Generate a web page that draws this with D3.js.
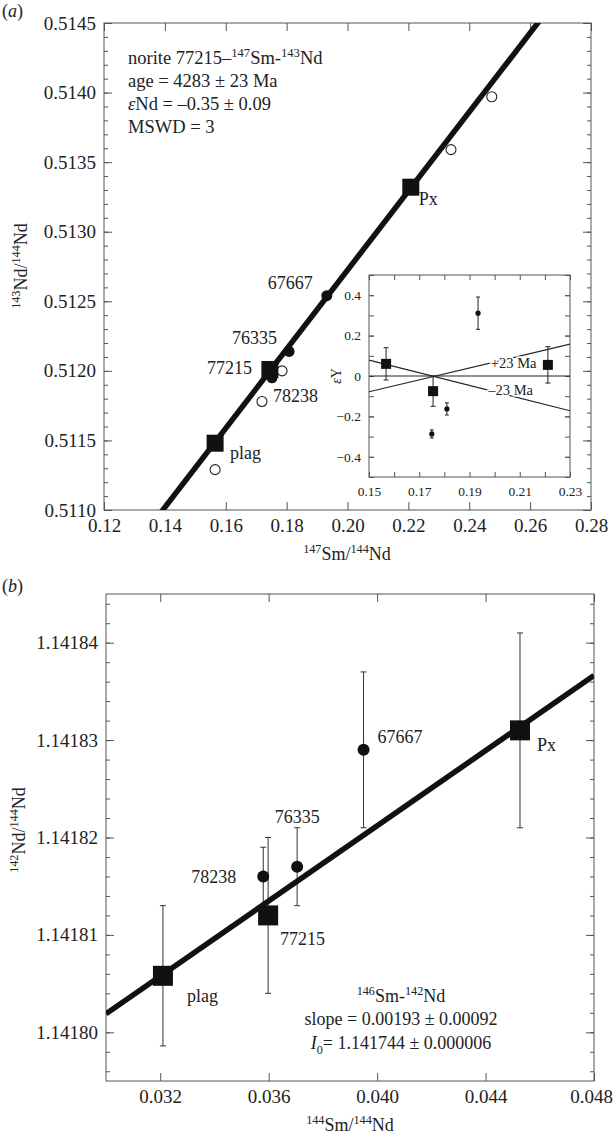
<!DOCTYPE html>
<html>
<head>
<meta charset="utf-8">
<script src="https://cdn.jsdelivr.net/npm/d3@7"></script>
<style>
body { margin:0; background:#fff; }
svg { display:block; }
text { font-family:"Liberation Serif","Times New Roman",serif; fill:#222; }
.frame { fill:none; stroke:#555; stroke-width:1; }
.axis path { display:none; }
.axis line { stroke:#555; stroke-width:1; }
</style>
</head>
<body>
<svg id="chart"></svg>
<script>
var serif = "Liberation Serif, Times New Roman, serif";

// ---- panel (a): 147Sm-143Nd isochron ----
var mineralNames = ["plag", "77215", "Px"];
var mineralSm147 = [0.1565, 0.1745, 0.2208];
var mineralNd143 = [0.51148, 0.51201, 0.51332];

var rockNames = ["67667", "76335", ""];
var rockSm147 = [0.1932, 0.1808, 0.1752];
var rockNd143 = [0.51254, 0.51214, 0.51195];

var openNames = ["", "78238", "", "", ""];
var openSm147 = [0.1565, 0.1719, 0.1785, 0.2340, 0.2474];
var openNd143 = [0.51129, 0.51178, 0.51200, 0.51359, 0.51397];

var isoSlope = 0.02841;
var isoIntercept = 0.507042;

var xTicksA = [0.12, 0.14, 0.16, 0.18, 0.20, 0.22, 0.24, 0.26, 0.28];
var yTicksA = [0.5110, 0.5115, 0.5120, 0.5125, 0.5130, 0.5135, 0.5140, 0.5145];

// inset: epsilon deviations
var insetSquareX = [0.1568, 0.1755, 0.2212];
var insetSquareY = [0.06, -0.075, 0.055];
var insetSquareErr = [0.08, 0.075, 0.09];
var insetDotX = [0.1750, 0.1810, 0.1934];
var insetDotY = [-0.287, -0.163, 0.311];
var insetDotErr = [0.02, 0.03, 0.08];
var refLineX = [0.15, 0.23];
var plus23Y = [-0.078, 0.158];
var minus23Y = [0.079, -0.172];
var insetXTicks = [0.15, 0.17, 0.19, 0.21, 0.23];
var insetYTicks = [-0.4, -0.2, 0, 0.2, 0.4];

// ---- panel (b): 146Sm-142Nd ----
var bSquareNames = ["plag", "77215", "Px"];
var bSquareX = [0.0321, 0.03598, 0.04527];
var bSquareY = [1.1418058, 1.141812, 1.141831];
var bSquareErr = [0.0000072, 0.000008, 0.00001];

var bDotNames = ["78238", "76335", "67667"];
var bDotX = [0.0358, 0.03705, 0.0395];
var bDotY = [1.141816, 1.141817, 1.141829];
var bDotErr = [0.000003, 0.000004, 0.000008];

var bSlope = 0.00193;
var bIntercept = 1.141744;

var xTicksB = [0.032, 0.036, 0.040, 0.044, 0.048];
var yTicksB = [1.14180, 1.14181, 1.14182, 1.14183, 1.14184];

var svg = d3.select("#chart").attr("width", 614).attr("height", 1136);

// write text made of parts: [string, "sup"|"sub"|"i"]
var richText = function(sel, parts, size)
{
    var shift = 0;
    parts.forEach(function(p)
    {
        var t = sel.append("tspan").text(p[0]);
        var want = 0;
        if (p[1] == "sup") { want = -size*0.38; t.attr("font-size", size*0.68); }
        if (p[1] == "sub") { want = size*0.25; t.attr("font-size", size*0.68); }
        if (p[1] == "i") { t.attr("font-style", "italic"); }
        if (want != shift) { t.attr("dy", want - shift); shift = want; }
    });
    return sel;
}

var addText = function(x, y, parts, size, anchor)
{
    var t = svg.append("text")
        .attr("x", x).attr("y", y)
        .attr("font-family", serif)
        .attr("font-size", size)
        .attr("text-anchor", anchor || "start");
    return richText(t, parts, size);
}

var addRotated = function(x, y, parts, size)
{
    var t = svg.append("text")
        .attr("transform", "translate(" + x + "," + y + ") rotate(-90)")
        .attr("font-family", serif)
        .attr("font-size", size)
        .attr("text-anchor", "middle");
    return richText(t, parts, size);
}

var stepRange = function(a, b, step)
{
    var n = Math.round((b - a) / step);
    return d3.range(n + 1).map(function(i) { return a + i * step; });
}

var styleAxis = function(g, fontSize)
{
    g.attr("font-family", serif).attr("font-size", fontSize);
    g.selectAll("text").attr("fill", "#222").attr("font-family", serif).attr("font-size", fontSize);
}

var drawAxes = function(box, xScale, yScale, xTicks, yTicks, xMinor, yMinor, xFmt, yFmt, fontSize, major, minor)
{
    var g = svg.append("g");
    g.append("g").attr("class", "axis")
        .attr("transform", "translate(0," + box.bottom + ")")
        .call(d3.axisBottom(xScale).tickValues(xTicks).tickSize(-major).tickPadding(9).tickFormat(xFmt))
        .call(styleAxis, fontSize);
    g.append("g").attr("class", "axis")
        .attr("transform", "translate(0," + box.top + ")")
        .call(d3.axisTop(xScale).tickValues(xTicks).tickSize(-major).tickFormat(""));
    g.append("g").attr("class", "axis")
        .attr("transform", "translate(" + box.left + ",0)")
        .call(d3.axisLeft(yScale).tickValues(yTicks).tickSize(-major).tickPadding(8).tickFormat(yFmt))
        .call(styleAxis, fontSize);
    g.append("g").attr("class", "axis")
        .attr("transform", "translate(" + box.right + ",0)")
        .call(d3.axisRight(yScale).tickValues(yTicks).tickSize(-major).tickFormat(""));
    if (xMinor)
    {
        g.append("g").attr("class", "axis")
            .attr("transform", "translate(0," + box.bottom + ")")
            .call(d3.axisBottom(xScale).tickValues(xMinor).tickSize(-minor).tickFormat(""));
        g.append("g").attr("class", "axis")
            .attr("transform", "translate(0," + box.top + ")")
            .call(d3.axisTop(xScale).tickValues(xMinor).tickSize(-minor).tickFormat(""));
    }
    if (yMinor)
    {
        g.append("g").attr("class", "axis")
            .attr("transform", "translate(" + box.left + ",0)")
            .call(d3.axisLeft(yScale).tickValues(yMinor).tickSize(-minor).tickFormat(""));
        g.append("g").attr("class", "axis")
            .attr("transform", "translate(" + box.right + ",0)")
            .call(d3.axisRight(yScale).tickValues(yMinor).tickSize(-minor).tickFormat(""));
    }
    g.append("rect").attr("class", "frame")
        .attr("x", box.left).attr("y", box.top)
        .attr("width", box.right - box.left).attr("height", box.bottom - box.top);
    return g;
}

var dash = function(d) { return d < 0 ? "\u2013" + Math.abs(d) : "" + d; }

// ================= panel (a) =================
var boxA = {left:104, right:591, top:23, bottom:510};
var xA = d3.scaleLinear().domain([0.12, 0.28]).range([boxA.left, boxA.right]);
var yA = d3.scaleLinear().domain([0.5110, 0.5145]).range([boxA.bottom, boxA.top]);

svg.append("clipPath").attr("id", "clipA").append("rect")
    .attr("x", boxA.left).attr("y", boxA.top)
    .attr("width", boxA.right - boxA.left).attr("height", boxA.bottom - boxA.top);

drawAxes(boxA, xA, yA, xTicksA, yTicksA, null, stepRange(0.5110, 0.5145, 0.0001),
    d3.format(".2f"), d3.format(".4f"), 19, 8, 4);

var isoA = d3.line()
    .x(function(d) { return xA(d); })
    .y(function(d) { return yA(isoIntercept + isoSlope * d); });
svg.append("path")
    .datum(xA.domain())
    .attr("clip-path", "url(#clipA)")
    .attr("d", isoA)
    .attr("fill", "none").attr("stroke", "#111").attr("stroke-width", 5.5);

svg.selectAll(".openA").data(openSm147).enter().append("circle")
    .attr("cx", function(d) { return xA(d); })
    .attr("cy", function(d, i) { return yA(openNd143[i]); })
    .attr("r", 5).attr("fill", "#fff").attr("stroke", "#222").attr("stroke-width", 1.1);

svg.selectAll(".squareA").data(mineralSm147).enter().append("rect")
    .attr("x", function(d) { return xA(d) - 8.5; })
    .attr("y", function(d, i) { return yA(mineralNd143[i]) - 8.5; })
    .attr("width", 17).attr("height", 17).attr("fill", "#111");

svg.selectAll(".dotA").data(rockSm147).enter().append("circle")
    .attr("cx", function(d) { return xA(d); })
    .attr("cy", function(d, i) { return yA(rockNd143[i]); })
    .attr("r", 5.5).attr("fill", "#111");

// labels, offsets from their points
var labA = [
    {x:mineralSm147[0], y:mineralNd143[0], t:mineralNames[0], dx:15, dy:16, a:"start"},
    {x:mineralSm147[1], y:mineralNd143[1], t:mineralNames[1], dx:-18, dy:5, a:"end"},
    {x:mineralSm147[2], y:mineralNd143[2], t:mineralNames[2], dx:8, dy:18, a:"start"},
    {x:rockSm147[0], y:rockNd143[0], t:rockNames[0], dx:-14, dy:-7, a:"end"},
    {x:rockSm147[1], y:rockNd143[1], t:rockNames[1], dx:-12, dy:-7, a:"end"},
    {x:openSm147[1], y:openNd143[1], t:openNames[1], dx:11, dy:1, a:"start"}
];
labA.forEach(function(l)
{
    addText(xA(l.x) + l.dx, yA(l.y) + l.dy, [[l.t]], 18, l.a);
});

addText(128, 64, [["norite 77215\u2013"], ["147", "sup"], ["Sm-"], ["143", "sup"], ["Nd"]], 18.5);
addText(128, 87, [["age = 4283 \u00b1 23 Ma"]], 18.5);
addText(128, 110, [["\u03b5", "i"], ["Nd = \u20130.35 \u00b1 0.09"]], 18.5);
addText(128, 133, [["MSWD = 3"]], 18.5);

addText(347, 560, [["147", "sup"], ["Sm/"], ["144", "sup"], ["Nd"]], 18, "middle");
addRotated(27, 266, [["143", "sup"], ["Nd/"], ["144", "sup"], ["Nd"]], 18);
addText(2, 17, [["("], ["a", "i"], [")"]], 18);

// ---- inset ----
var boxI = {left:369, right:570, top:275, bottom:477};
var xI = d3.scaleLinear().domain([0.15, 0.23]).range([boxI.left, boxI.right]);
var yI = d3.scaleLinear().domain([-0.5, 0.5]).range([boxI.bottom, boxI.top]);

svg.append("rect").attr("x", boxI.left).attr("y", boxI.top)
    .attr("width", boxI.right - boxI.left).attr("height", boxI.bottom - boxI.top)
    .attr("fill", "#fff");
svg.append("clipPath").attr("id", "clipI").append("rect")
    .attr("x", boxI.left).attr("y", boxI.top)
    .attr("width", boxI.right - boxI.left).attr("height", boxI.bottom - boxI.top);

drawAxes(boxI, xI, yI, insetXTicks, insetYTicks,
    stepRange(0.16, 0.22, 0.02), stepRange(-0.5, 0.5, 0.1),
    d3.format(".2f"), function(d) { return dash(d3.format("")(+d.toFixed(1))); }, 13.5, 5, 5);

var refLine = d3.line()
    .x(function(d, i) { return xI(refLineX[i]); })
    .y(function(d) { return yI(d); });
var refG = svg.append("g").attr("clip-path", "url(#clipI)");
refG.append("path").datum([0, 0]).attr("d", refLine)
    .attr("fill", "none").attr("stroke", "#222").attr("stroke-width", 1.2);
refG.append("path").datum(plus23Y).attr("d", refLine)
    .attr("fill", "none").attr("stroke", "#222").attr("stroke-width", 1.2);
refG.append("path").datum(minus23Y).attr("d", refLine)
    .attr("fill", "none").attr("stroke", "#222").attr("stroke-width", 1.2);

var lineAt = function(ys, x)
{
    var s = d3.scaleLinear().domain(refLineX).range(ys);
    return s(x);
}
svg.append("text").attr("x", xI(0.1985)).attr("y", yI(lineAt(plus23Y, 0.1985)) + 5)
    .attr("font-family", serif).attr("font-size", 14.5)
    .attr("stroke", "#fff").attr("stroke-width", 3)
    .attr("paint-order", "stroke").text("+23 Ma");
svg.append("text").attr("x", xI(0.1975)).attr("y", yI(lineAt(minus23Y, 0.1975)) + 5)
    .attr("font-family", serif).attr("font-size", 14.5)
    .attr("stroke", "#fff").attr("stroke-width", 3)
    .attr("paint-order", "stroke").text("\u201323 Ma");

var errI = svg.append("g").attr("stroke", "#222").attr("stroke-width", 1);
var drawErr = function(g, x, y, e, xs, ys, cap)
{
    g.append("line").attr("x1", xs(x)).attr("x2", xs(x))
        .attr("y1", ys(y - e)).attr("y2", ys(y + e));
    g.append("line").attr("x1", xs(x) - cap).attr("x2", xs(x) + cap)
        .attr("y1", ys(y - e)).attr("y2", ys(y - e));
    g.append("line").attr("x1", xs(x) - cap).attr("x2", xs(x) + cap)
        .attr("y1", ys(y + e)).attr("y2", ys(y + e));
}
insetSquareX.forEach(function(x, i) { drawErr(errI, x, insetSquareY[i], insetSquareErr[i], xI, yI, 2.5); });
insetDotX.forEach(function(x, i) { drawErr(errI, x, insetDotY[i], insetDotErr[i], xI, yI, 2); });

svg.selectAll(".squareI").data(insetSquareX).enter().append("rect")
    .attr("x", function(d) { return xI(d) - 5; })
    .attr("y", function(d, i) { return yI(insetSquareY[i]) - 5; })
    .attr("width", 10).attr("height", 10).attr("fill", "#111");
svg.selectAll(".dotI").data(insetDotX).enter().append("circle")
    .attr("cx", function(d) { return xI(d); })
    .attr("cy", function(d, i) { return yI(insetDotY[i]); })
    .attr("r", 2.6).attr("fill", "#111");

addRotated(341, 376, [["\u03b5", "i"], ["Y"]], 14);

// ================= panel (b) =================
var boxB = {left:106, right:594, top:594, bottom:1081};
var xB = d3.scaleLinear().domain([0.030, 0.048]).range([boxB.left, boxB.right]);
var yB = d3.scaleLinear().domain([1.141795, 1.141845]).range([boxB.bottom, boxB.top]);

svg.append("clipPath").attr("id", "clipB").append("rect")
    .attr("x", boxB.left).attr("y", boxB.top)
    .attr("width", boxB.right - boxB.left).attr("height", boxB.bottom - boxB.top);

var axB = drawAxes(boxB, xB, yB, xTicksB, yTicksB, null, stepRange(1.141796, 1.141844, 0.000002),
    d3.format(".3f"), d3.format(".5f"), 19, 8, 4);
// last x label sits at the page edge
axB.selectAll("text").filter(function(d) { return d == 0.048; }).attr("dx", -3);

var errB = svg.append("g").attr("stroke", "#333").attr("stroke-width", 1);
bSquareX.forEach(function(x, i) { drawErr(errB, x, bSquareY[i], bSquareErr[i], xB, yB, 3); });
bDotX.forEach(function(x, i) { drawErr(errB, x, bDotY[i], bDotErr[i], xB, yB, 3); });

var isoB = d3.line()
    .x(function(d) { return xB(d); })
    .y(function(d) { return yB(bIntercept + bSlope * d); });
svg.append("path")
    .datum(xB.domain())
    .attr("clip-path", "url(#clipB)")
    .attr("d", isoB)
    .attr("fill", "none").attr("stroke", "#111").attr("stroke-width", 5.5);

svg.selectAll(".squareB").data(bSquareX).enter().append("rect")
    .attr("x", function(d) { return xB(d) - 10; })
    .attr("y", function(d, i) { return yB(bSquareY[i]) - 10; })
    .attr("width", 20).attr("height", 20).attr("fill", "#111");
svg.selectAll(".dotB").data(bDotX).enter().append("circle")
    .attr("cx", function(d) { return xB(d); })
    .attr("cy", function(d, i) { return yB(bDotY[i]); })
    .attr("r", 6).attr("fill", "#111");

var labB = [
    {x:bSquareX[0], y:bSquareY[0], t:bSquareNames[0], dx:24, dy:26, a:"start"},
    {x:bSquareX[1], y:bSquareY[1], t:bSquareNames[1], dx:12, dy:30, a:"start"},
    {x:bSquareX[2], y:bSquareY[2], t:bSquareNames[2], dx:17, dy:21, a:"start"},
    {x:bDotX[0], y:bDotY[0], t:bDotNames[0], dx:-27, dy:7, a:"end"},
    {x:bDotX[1], y:bDotY[1], t:bDotNames[1], dx:0, dy:-44, a:"middle"},
    {x:bDotX[2], y:bDotY[2], t:bDotNames[2], dx:14, dy:-7, a:"start"}
];
labB.forEach(function(l)
{
    addText(xB(l.x) + l.dx, yB(l.y) + l.dy, [[l.t]], 18, l.a);
});

addText(401, 1002, [["146", "sup"], ["Sm-"], ["142", "sup"], ["Nd"]], 18, "middle");
addText(401, 1025, [["slope = 0.00193 \u00b1 0.00092"]], 18, "middle");
addText(401, 1049, [["I", "i"], ["0", "sub"], ["= 1.141744 \u00b1 0.000006"]], 18, "middle");

addText(350, 1131, [["144", "sup"], ["Sm/"], ["144", "sup"], ["Nd"]], 18, "middle");
addRotated(25, 830, [["142", "sup"], ["Nd/"], ["144", "sup"], ["Nd"]], 18);
addText(2, 592, [["("], ["b", "i"], [")"]], 18);
</script>
</body>
</html>
